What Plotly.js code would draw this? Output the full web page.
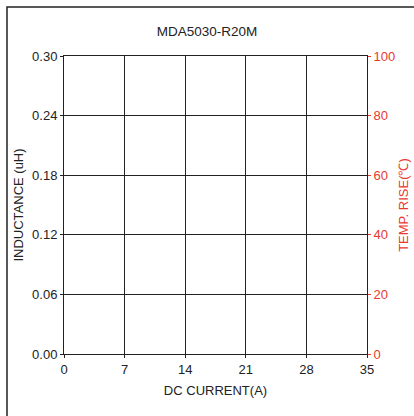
<!DOCTYPE html>
<html>
<head>
<meta charset="utf-8">
<script src="https://cdn.plot.ly/plotly-3.0.1.min.js"></script>
<style>
html,body{margin:0;padding:0;background:#fff;}
#chart{width:414px;height:416px;}
</style>
</head>
<body>
<div id="chart"></div>
<script>
// Chart data (the reference chart is an empty grid: no curves drawn)
var chartTitle = "MDA5030-R20M";
var xTickVals = [0, 7, 14, 21, 28, 35];
var yTickVals = [0, 0.06, 0.12, 0.18, 0.24, 0.30];
var y2TickVals = [0, 20, 40, 60, 80, 100];
var currentA = [];
var inductanceUH = [];
var tempRiseC = [];

var dark = "#222222";
var red = "#e8392e";
var font = "Arial, 'Liberation Sans', sans-serif";

var traces = [
  {x: currentA, y: inductanceUH, type: "scatter", mode: "lines", xaxis: "x", yaxis: "y", showlegend: false, line: {color: dark}},
  {x: currentA, y: tempRiseC, type: "scatter", mode: "lines", xaxis: "x", yaxis: "y2", showlegend: false, line: {color: red}}
];

var layout = {
  width: 414, height: 416,
  margin: {l: 64, r: 47, t: 56, b: 62},
  paper_bgcolor: "#fff", plot_bgcolor: "#fff",
  font: {family: font, size: 13, color: dark},
  showlegend: false,
  title: {text: chartTitle, font: {family: font, size: 13.5, color: dark}, x: 0.5, xref: "container", y: 1 - 31/416, yref: "container", yanchor: "middle"},
  xaxis: {
    range: [0, 35], tickvals: xTickVals, ticktext: xTickVals.map(String),
    showgrid: true, gridcolor: dark, gridwidth: 1, zeroline: false,
    showline: true, linecolor: dark, linewidth: 1, mirror: true,
    ticks: "outside", ticklen: 3, tickcolor: dark,
    tickfont: {size: 13, color: dark},
    title: {text: "DC CURRENT(A)", font: {size: 13, color: dark}, standoff: 10}
  },
  yaxis: {
    range: [0, 0.30], tickvals: yTickVals, ticktext: yTickVals.map(function(v){return v.toFixed(2);}),
    showgrid: true, gridcolor: dark, gridwidth: 1, zeroline: false,
    showline: true, linecolor: dark, linewidth: 1, mirror: true,
    ticks: "outside", ticklen: 3, tickcolor: dark,
    tickfont: {size: 13, color: dark},
    title: {text: "INDUCTANCE (uH)", font: {size: 13, color: dark}, standoff: 5}
  },
  yaxis2: {
    overlaying: "y", side: "right", anchor: "x",
    range: [0, 100], tickvals: y2TickVals, ticktext: y2TickVals.map(String),
    showgrid: false, zeroline: false, showline: false,
    ticks: "outside", ticklen: 3, tickcolor: red,
    tickfont: {size: 13, color: red},
    title: {text: "TEMP. RISE(℃)", font: {size: 13, color: red}, standoff: 4}
  },
  shapes: [
    {type: "rect", xref: "paper", yref: "paper",
     x0: (7 - 64) / 303, x1: 1.3, y0: -0.3, y1: (354 - 7) / 298,
     line: {color: dark, width: 1.5}, fillcolor: "rgba(0,0,0,0)", layer: "below"}
  ]
};

Plotly.newPlot("chart", traces, layout, {displayModeBar: false, staticPlot: true});
</script>
</body>
</html>
